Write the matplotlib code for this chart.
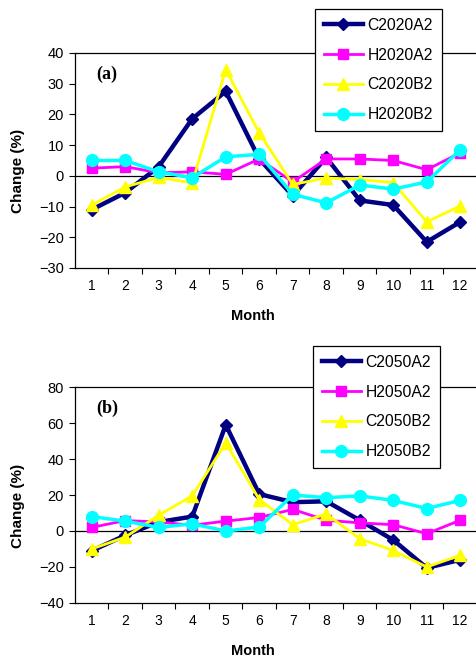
import matplotlib.pyplot as plt

months = list(range(1, 13))

# panel (a): 2020 changes (%)
c2020a2 = [-11, -5.5, 3, 18.6, 27.5, 5.5, -6.5, 6, -8, -9.5, -21.5, -15]
h2020a2 = [2.5, 3, 1, 1.3, 0.5, 5.5, -2, 5.5, 5.5, 5, 2, 7.5]
c2020b2 = [-9.5, -3.6, -0.5, -2.3, 34.6, 14, -2.8, -0.7, -1.2, -2.2, -15, -9.8]
h2020b2 = [5, 5, 1.3, -0.6, 6.2, 7, -6, -8.8, -3, -4.3, -2, 8.5]

# panel (b): 2050 changes (%)
c2050a2 = [-11, -2.4, 5, 8, 59, 20.5, 16, 16.5, 6, -5, -20.5, -16]
h2050a2 = [2, 5.8, 5, 3.2, 5.5, 7.5, 12, 6, 4.5, 3.5, -1.5, 6]
c2050b2 = [-10, -3.4, 8.8, 19.5, 49, 17.5, 3.5, 9.5, -4.3, -10.8, -20, -13.5]
h2050b2 = [8, 5.5, 2, 4, 0, 2.2, 20, 18.5, 19.5, 17, 12.5, 17]

plt.rcParams['font.family'] = ['Liberation Sans', 'DejaVu Sans']

styles = [
    dict(color='#000080', marker='D', ms=6.5, lw=3.2),
    dict(color='#ff00ff', marker='s', ms=7, lw=2),
    dict(color='#ffff00', marker='^', ms=8.5, lw=2),
    dict(color='#00ffff', marker='o', ms=8.5, lw=2.5),
]

fig = plt.figure(figsize=(4.77, 6.6), dpi=100)
W, H = 477, 660


def panel(top, bottom, series, labels, ylim, yticks, tag, leg_box):
    ax = fig.add_axes([75 / W, 1 - bottom / H, 402 / W, (bottom - top) / H])
    for vals, lab, st in zip(series, labels, styles):
        ax.plot(months, vals, label=lab, color=st['color'], marker=st['marker'],
                markersize=st['ms'], linewidth=st['lw'], clip_on=False)
    ax.axhline(0, color='black', lw=0.9, zorder=1)
    ax.set_xlim(0.5, 12.5)
    ax.set_ylim(*ylim)
    ax.set_yticks(yticks)
    ax.set_xticks(months)
    ax.set_xticks([m + 0.5 for m in months[:-1]], minor=True)
    ax.tick_params(axis='x', which='major', length=0, pad=8, labelsize=10)
    ax.tick_params(axis='x', which='minor', length=4, width=0.8)
    ax.tick_params(axis='y', length=4, width=0.8, labelsize=10.5, pad=4)
    for s in ax.spines.values():
        s.set_linewidth(0.9)
    ax.spines['right'].set_visible(False)
    ax.set_xlabel('Month', fontweight='bold', fontsize=10.5)
    ax.xaxis.set_label_coords(0.443, -47 / (bottom - top) + 0.03)
    ax.set_ylabel('Change (%)', fontweight='bold', fontsize=11)
    ax.yaxis.set_label_coords(-50 / 402, 0.45)
    ax.text(0.08, 0.9, tag, transform=ax.transAxes, ha='center', va='center',
            fontsize=13, fontweight='bold', family='Liberation Serif')
    x0, y0, x1, y1 = leg_box
    leg = ax.legend(loc='upper left', bbox_to_anchor=(x0 / W, 1 - y0 / H),
                    bbox_transform=fig.transFigure, fontsize=11.3,
                    fancybox=False, edgecolor='black', framealpha=1,
                    borderpad=0.55, labelspacing=0.95, handlelength=2.5,
                    handletextpad=0.3, borderaxespad=0)
    leg.get_frame().set_linewidth(0.9)
    return ax


panel(53, 268, [c2020a2, h2020a2, c2020b2, h2020b2],
      ['C2020A2', 'H2020A2', 'C2020B2', 'H2020B2'],
      (-30, 40), range(-30, 41, 10), '(a)', (315, 9, 447, 129))
panel(387, 603, [c2050a2, h2050a2, c2050b2, h2050b2],
      ['C2050A2', 'H2050A2', 'C2050B2', 'H2050B2'],
      (-40, 80), range(-40, 81, 20), '(b)', (313, 346, 445, 466))

fig.savefig('out.png', dpi=100)
